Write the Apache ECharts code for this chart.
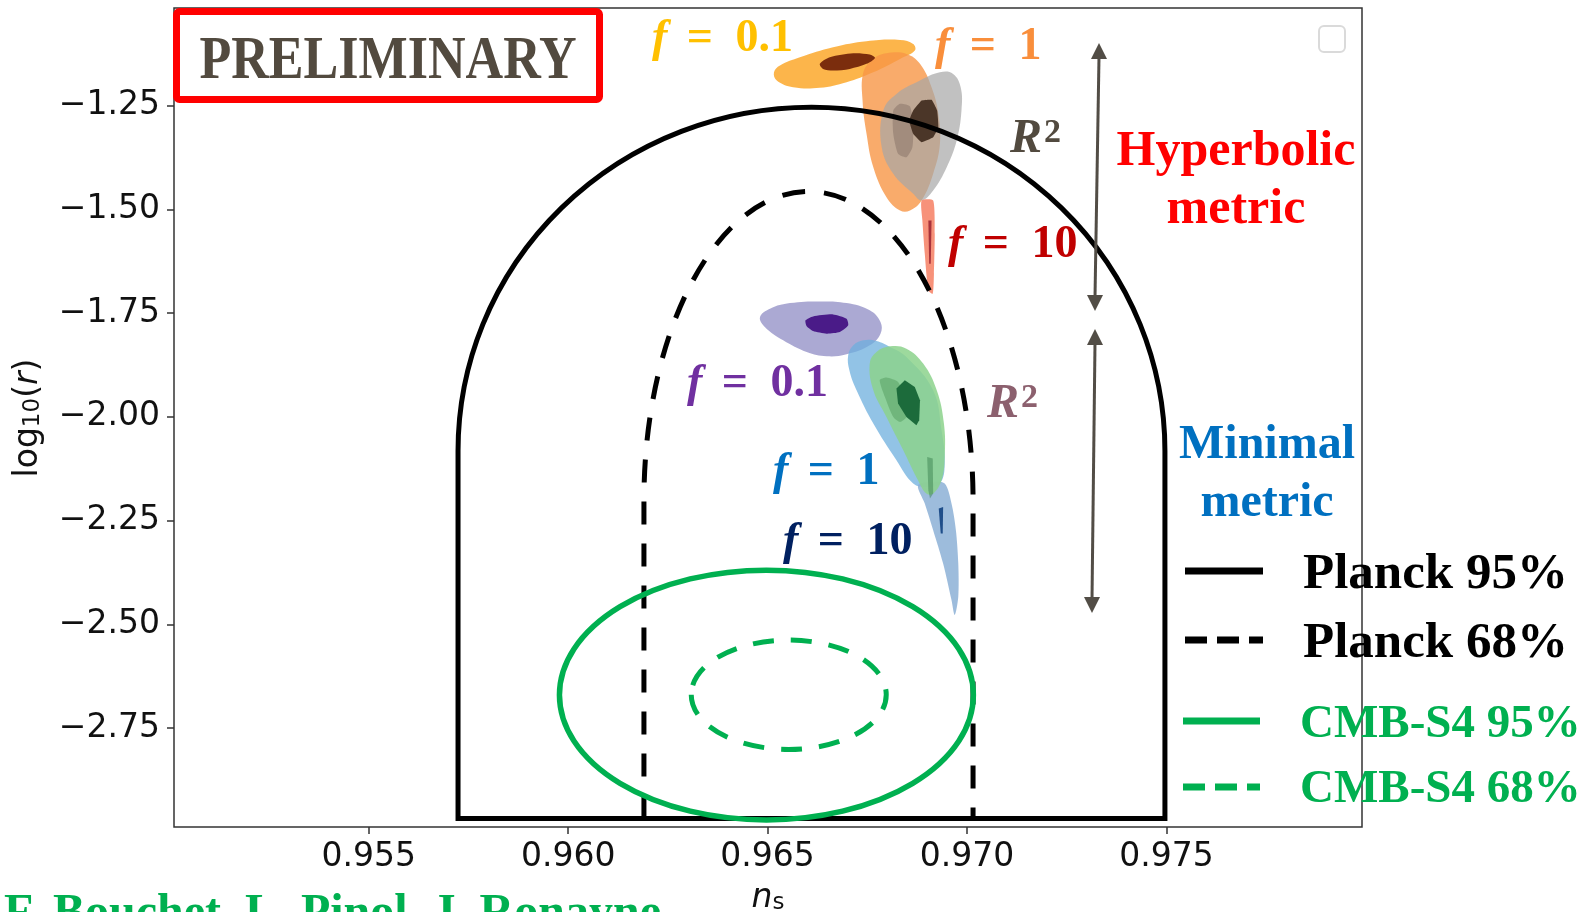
<!DOCTYPE html>
<html><head><meta charset="utf-8">
<script src="https://cdn.jsdelivr.net/npm/echarts@6/dist/echarts.min.js"></script>
<style>html,body{margin:0;padding:0;background:#fff}#c{width:1588px;height:912px}</style>
</head><body><div id="c"></div>
<script>
// ---------- axes ----------
const xRange = [0.95012, 0.97990];
const yRange = [-2.9880, -1.0150];
const xTicks = [0.955, 0.960, 0.965, 0.970, 0.975];
const yTicks = [-2.75, -2.50, -2.25, -2.00, -1.75, -1.50, -1.25];

// ---------- Planck contours: [left ns, right ns], [bottom, shoulder, top] in log10 r ----------
const planck95X = [0.95724, 0.97496];
const planck95Y = [-2.9673, -2.0821, -1.2540];
const planck68X = [0.96190, 0.97015];
const planck68Y = [-2.9673, -2.2007, -1.4570];

// ---------- CMB-S4 forecast: [centre ns, centre log10 r, half-width, half-height] ----------
const cmbs4_95 = [0.96497, -2.6701, 0.005188, 0.30086];
const cmbs4_68 = [0.96553, -2.6694, 0.002444, 0.13166];

// ---------- posterior contours (ns, log10 r), hyperbolic metric ----------
const hypF01Outer = [[0.96516,-1.1699],[0.96531,-1.1537],[0.96581,-1.1338],[0.96664,-1.1097],[0.96748,-1.0952],[0.96832,-1.0919],[0.96865,-1.1015],[0.96869,-1.1176],[0.96832,-1.1376],[0.96765,-1.1699],[0.96698,-1.1939],[0.96631,-1.2074],[0.96564,-1.2060],[0.96523,-1.1898]];
const hypF01Inner = [[0.96631,-1.1496],[0.96656,-1.1338],[0.96715,-1.1241],[0.96756,-1.1273],[0.96769,-1.1352],[0.96748,-1.1496],[0.96706,-1.1617],[0.96664,-1.1658],[0.96639,-1.1617]];
const hypF1Outer = [[0.96740,-1.1699],[0.96765,-1.1376],[0.96798,-1.1241],[0.96848,-1.1256],[0.96882,-1.1496],[0.96911,-1.2060],[0.96928,-1.2700],[0.96932,-1.3422],[0.96915,-1.4144],[0.96886,-1.4787],[0.96857,-1.5027],[0.96832,-1.5027],[0.96798,-1.4707],[0.96765,-1.3985],[0.96748,-1.3181],[0.96738,-1.2380]];
const hypF1Inner = [[0.96865,-1.2620],[0.96886,-1.2380],[0.96911,-1.2363],[0.96925,-1.2620],[0.96928,-1.3022],[0.96915,-1.3263],[0.96886,-1.3383],[0.96865,-1.3181],[0.96855,-1.2861]];
const hypR2Outer = [[0.96790,-1.2620],[0.96823,-1.2219],[0.96882,-1.1898],[0.96932,-1.1699],[0.96965,-1.1737],[0.96984,-1.2060],[0.96986,-1.2620],[0.96974,-1.3342],[0.96949,-1.3985],[0.96915,-1.4546],[0.96886,-1.4787],[0.96865,-1.4625],[0.96815,-1.4144],[0.96786,-1.3504]];
const hypR2Inner = [[0.96815,-1.2620],[0.96832,-1.2459],[0.96857,-1.2524],[0.96865,-1.3022],[0.96863,-1.3504],[0.96848,-1.3745],[0.96827,-1.3663],[0.96815,-1.3181]];
const hypF10Outer = [[0.96886,-1.4787],[0.96915,-1.4787],[0.96919,-1.5588],[0.96917,-1.6551],[0.96914,-1.7032],[0.96903,-1.6953],[0.96894,-1.6070],[0.96888,-1.5268]];
const hypF10Inner = [[0.96903,-1.5268],[0.96911,-1.5268],[0.96909,-1.6310],[0.96905,-1.6310]];

// ---------- posterior contours, minimal metric ----------
const minF01Outer = [[0.96481,-1.7596],[0.96506,-1.7393],[0.96556,-1.7259],[0.96631,-1.7218],[0.96698,-1.7259],[0.96756,-1.7434],[0.96783,-1.7716],[0.96783,-1.7995],[0.96756,-1.8277],[0.96698,-1.8493],[0.96648,-1.8541],[0.96598,-1.8438],[0.96539,-1.8156],[0.96493,-1.7836]];
const minF01Inner = [[0.96595,-1.7675],[0.96614,-1.7579],[0.96664,-1.7531],[0.96698,-1.7634],[0.96702,-1.7795],[0.96681,-1.7957],[0.96648,-1.7995],[0.96614,-1.7932],[0.96598,-1.7819]];
const minF1Outer = [[0.96702,-1.8517],[0.96715,-1.8277],[0.96740,-1.8156],[0.96773,-1.8173],[0.96807,-1.8318],[0.96848,-1.8558],[0.96915,-1.9360],[0.96936,-2.0323],[0.96944,-2.1124],[0.96932,-2.1605],[0.96898,-2.1687],[0.96865,-2.1605],[0.96823,-2.1045],[0.96765,-2.0161],[0.96723,-1.9360],[0.96705,-1.8878]];
const minF10Outer = [[0.96877,-2.1646],[0.96911,-2.1567],[0.96944,-2.1605],[0.96961,-2.2087],[0.96972,-2.2729],[0.96978,-2.3531],[0.96978,-2.4335],[0.96969,-2.4775],[0.96961,-2.4414],[0.96940,-2.3531],[0.96915,-2.2729],[0.96894,-2.2087]];
const minF10Inner = [[0.96929,-2.2207],[0.96940,-2.2169],[0.96939,-2.2809],[0.96934,-2.2809]];
const minR2Outer = [[0.96756,-1.8717],[0.96773,-1.8438],[0.96807,-1.8301],[0.96848,-1.8356],[0.96890,-1.8717],[0.96924,-1.9360],[0.96942,-2.0161],[0.96944,-2.0965],[0.96936,-2.1526],[0.96915,-2.1846],[0.96898,-2.1846],[0.96877,-2.1526],[0.96840,-2.0804],[0.96798,-2.0002],[0.96765,-1.9360]];
const minR2Mid = [[0.96781,-1.9119],[0.96798,-1.9054],[0.96827,-1.9160],[0.96848,-1.9600],[0.96848,-2.0002],[0.96832,-2.0123],[0.96815,-2.0002],[0.96794,-1.9521]];
const minR2Tail = [[0.96900,-2.0965],[0.96914,-2.1004],[0.96915,-2.1846],[0.96907,-2.1966],[0.96903,-2.1767]];
const minR2Inner = [[0.96823,-1.9319],[0.96844,-1.9119],[0.96869,-1.9280],[0.96882,-1.9600],[0.96880,-2.0082],[0.96873,-2.0202],[0.96848,-2.0002],[0.96827,-1.9680]];

// ---------- labels ----------
const fValuesHyp = ['0.1', '1', '10'];
const fValuesMin = ['0.1', '1', '10'];
const legendLabels = ['Planck 95%', 'Planck 68%', 'CMB-S4 95%', 'CMB-S4 68%'];
const authors = 'F. Bouchet, L. Pinol, J. Ronayne';

const SERIF = '"Liberation Serif", "Times New Roman", serif';
const SANS = '"DejaVu Sans", sans-serif';

function blob(name, pts, fill, smooth) {
  return {
    type: 'custom', name: name, silent: true, animation: false,
    data: [pts[0]],
    renderItem: function (params, api) {
      return {
        type: 'polygon',
        shape: { points: pts.map(function (p) { return api.coord(p); }), smooth: smooth },
        style: { fill: fill, stroke: null }
      };
    }
  };
}

function arch(name, X, Y, color, width, dash, closed) {
  return {
    type: 'custom', name: name, silent: true, animation: false, z: 5,
    data: [[X[0], Y[0]]],
    renderItem: function (params, api) {
      const bl = api.coord([X[0], Y[0]]), br = api.coord([X[1], Y[0]]);
      const sl = api.coord([X[0], Y[1]]), sr = api.coord([X[1], Y[1]]);
      const tp = api.coord([(X[0] + X[1]) / 2, Y[2]]);
      const rx = (sr[0] - sl[0]) / 2, ry = sl[1] - tp[1];
      const d = 'M' + bl[0] + ',' + bl[1] + ' L' + sl[0] + ',' + sl[1] +
        ' A' + rx + ',' + ry + ' 0 0 1 ' + sr[0] + ',' + sr[1] +
        ' L' + br[0] + ',' + br[1] + (closed ? ' Z' : '');
      return { type: 'path', shape: { pathData: d },
        style: { fill: 'none', stroke: color, lineWidth: width, lineDash: dash, lineJoin: 'miter' } };
    }
  };
}

function ellipse(name, E, color, width, dash) {
  return {
    type: 'custom', name: name, silent: true, animation: false, z: 6,
    data: [[E[0], E[1]]],
    renderItem: function (params, api) {
      const c = api.coord([E[0], E[1]]);
      const s = api.size([E[2], E[3]]);
      const rx = s[0], ry = s[1];
      const d = 'M' + (c[0] - rx) + ',' + c[1] +
        ' A' + rx + ',' + ry + ' 0 1 0 ' + (c[0] + rx) + ',' + c[1] +
        ' A' + rx + ',' + ry + ' 0 1 0 ' + (c[0] - rx) + ',' + c[1] + ' Z';
      return { type: 'path', shape: { pathData: d },
        style: { fill: 'none', stroke: color, lineWidth: width, lineDash: dash } };
    }
  };
}

function fLabel(x, y, val, color) {
  const base = { fontFamily: SERIF, fontWeight: 'bold', fontSize: 46, fill: color, color: color };
  return {
    type: 'text', x: x, y: y, z: 60,
    style: {
      text: '{f|f}{e| = }{n|' + val + '}',
      rich: {
        f: Object.assign({}, base, { fontStyle: 'italic', padding: [0, 8, 0, 0] }),
        e: Object.assign({}, base, { padding: [0, 11, 0, 0] }),
        n: Object.assign({}, base)
      },
      fill: color, align: 'left', textAlign: 'left', verticalAlign: 'middle', textVerticalAlign: 'middle'
    }
  };
}

function r2Label(x, y, color) {
  const base = { fontFamily: SERIF, fontWeight: 'bold', fill: color, color: color };
  return {
    type: 'text', x: x, y: y, z: 60,
    style: {
      text: '{r|R}{s|2}',
      rich: {
        r: Object.assign({}, base, { fontStyle: 'italic', fontSize: 48 }),
        s: Object.assign({}, base, { fontSize: 34, verticalAlign: 'top', padding: [0, 0, 0, 2] })
      },
      fill: color, align: 'left', textAlign: 'left', verticalAlign: 'middle', textVerticalAlign: 'middle'
    }
  };
}

function txt(x, y, text, size, color, align, extra) {
  return Object.assign({
    type: 'text', x: x, y: y, z: 60,
    style: { text: text, font: 'bold ' + size + 'px ' + SERIF, fill: color,
      align: align, textAlign: align, verticalAlign: 'middle', textVerticalAlign: 'middle' }
  }, extra || {});
}

function arrow(x1, y1, x2, y2) {
  const c = '#524D46', hl = 16, hw = 8;
  return [
    { type: 'line', z: 40, shape: { x1: x1, y1: y1 + hl - 2, x2: x2, y2: y2 - hl + 2 }, style: { stroke: c, lineWidth: 3 } },
    { type: 'polygon', z: 40, shape: { points: [[x1, y1], [x1 - hw, y1 + hl], [x1 + hw, y1 + hl]] }, style: { fill: c } },
    { type: 'polygon', z: 40, shape: { points: [[x2, y2], [x2 - hw, y2 - hl], [x2 + hw, y2 - hl]] }, style: { fill: c } }
  ];
}

const chart = echarts.init(document.getElementById('c'), null, { renderer: 'canvas' });

const graphics = [].concat(
  [
    // PRELIMINARY box
    { type: 'rect', z: 70, shape: { x: 176.5, y: 11.5, width: 423, height: 88, r: 3 },
      style: { fill: '#fff', stroke: '#FF0000', lineWidth: 7 } },
    txt(388, 62, 'PRELIMINARY', 62, '#524A3F', 'center', { z: 71, scaleX: 0.84 }),
    // empty legend frame at top right
    { type: 'rect', z: 40, shape: { x: 1319, y: 26, width: 26, height: 26, r: 5 },
      style: { fill: 'none', stroke: '#DADADA', lineWidth: 2 } },
    fLabel(652, 39, fValuesHyp[0], '#FFC000'),
    fLabel(935, 47, fValuesHyp[1], '#F98E3B'),
    r2Label(1010, 140, '#524A3F'),
    fLabel(948, 245, fValuesHyp[2], '#C00000'),
    txt(1236, 152, 'Hyperbolic', 50, '#FF0000', 'center'),
    txt(1236, 210, 'metric', 50, '#FF0000', 'center'),
    fLabel(687, 384, fValuesMin[0], '#7030A0'),
    r2Label(987, 405, '#8C606E'),
    fLabel(773, 472, fValuesMin[1], '#0070C0'),
    fLabel(783, 542, fValuesMin[2], '#002060'),
    txt(1267, 446, 'Minimal', 48, '#0070C0', 'center'),
    txt(1267, 504, 'metric', 48, '#0070C0', 'center'),
    // legend
    { type: 'line', z: 40, shape: { x1: 1185, y1: 571, x2: 1263, y2: 571 }, style: { stroke: '#000', lineWidth: 7 } },
    { type: 'line', z: 40, shape: { x1: 1185, y1: 640, x2: 1263, y2: 640 }, style: { stroke: '#000', lineWidth: 7, lineDash: [22, 10] } },
    { type: 'line', z: 40, shape: { x1: 1183, y1: 721, x2: 1260, y2: 721 }, style: { stroke: '#00B050', lineWidth: 7 } },
    { type: 'line', z: 40, shape: { x1: 1183, y1: 787, x2: 1260, y2: 787 }, style: { stroke: '#00B050', lineWidth: 7, lineDash: [22, 10] } },
    txt(1303, 575, legendLabels[0], 51, '#000', 'left'),
    txt(1303, 644, legendLabels[1], 51, '#000', 'left'),
    txt(1300, 725, legendLabels[2], 47, '#00B050', 'left'),
    txt(1300, 790, legendLabels[3], 47, '#00B050', 'left'),
    // authors
    txt(4, 915, authors, 48, '#00B050', 'left'),
    // axis titles
    { type: 'text', x: 768, y: 898, z: 60, style: {
        text: '{n|n}{s|s}', align: 'center', textAlign: 'center', verticalAlign: 'middle', textVerticalAlign: 'middle',
        rich: { n: { fontFamily: SANS, fontStyle: 'italic', fontSize: 33, fill: '#111', color: '#111' },
                s: { fontFamily: SANS, fontSize: 23, fill: '#111', color: '#111', verticalAlign: 'bottom' } } } },
    { type: 'text', x: 28, y: 418, z: 60, rotation: Math.PI / 2, style: {
        text: '{a|log}{b|10}{a|(}{c|r}{a|)}', align: 'center', textAlign: 'center', verticalAlign: 'middle', textVerticalAlign: 'middle',
        rich: { a: { fontFamily: SANS, fontSize: 33, fill: '#111', color: '#111' },
                b: { fontFamily: SANS, fontSize: 23, fill: '#111', color: '#111', verticalAlign: 'bottom' },
                c: { fontFamily: SANS, fontStyle: 'italic', fontSize: 33, fill: '#111', color: '#111' } } } }
  ],
  arrow(1099, 43, 1095, 311),
  arrow(1095, 329, 1092, 613)
);

chart.setOption({
  animation: false,
  backgroundColor: '#fff',
  grid: { left: 174, top: 8, width: 1188, height: 819, show: true, borderColor: '#333', borderWidth: 1.5, backgroundColor: 'transparent' },
  xAxis: {
    type: 'value', min: xRange[0], max: xRange[1], scale: true,
    splitLine: { show: false },
    axisLine: { show: false },
    axisTick: { show: true, inside: false, length: 7, lineStyle: { color: '#333', width: 1.5 }, customValues: xTicks },
    axisLabel: { customValues: xTicks, margin: 14, fontFamily: 'DejaVu Sans', fontSize: 33, color: '#111',
      formatter: function (v) { return v.toFixed(3); } }
  },
  yAxis: {
    type: 'value', min: yRange[0], max: yRange[1], scale: true,
    splitLine: { show: false },
    axisLine: { show: false },
    axisTick: { show: true, inside: false, length: 7, lineStyle: { color: '#333', width: 1.5 }, customValues: yTicks },
    axisLabel: { customValues: yTicks, margin: 14, fontFamily: 'DejaVu Sans', fontSize: 33, color: '#111',
      formatter: function (v) { return (v < 0 ? '\u2212' : '') + Math.abs(v).toFixed(2); } }
  },
  series: [
    blob('Hyperbolic f=0.1 (95%)', hypF01Outer, 'rgba(252,175,60,0.92)', 0.4),
    blob('Hyperbolic f=1 (95%)', hypF1Outer, 'rgba(247,150,70,0.8)', 0.4),
    blob('Hyperbolic f=0.1 (68%)', hypF01Inner, '#7B2D0D', 0.3),
    blob('Hyperbolic R2 (95%)', hypR2Outer, 'rgba(166,166,166,0.7)', 0.4),
    blob('Hyperbolic R2 (68%)', hypR2Inner, 'rgba(150,128,116,0.7)', 0.2),
    blob('Hyperbolic f=1 (68%)', hypF1Inner, '#4B3628', 0.1),
    blob('Hyperbolic f=10 (95%)', hypF10Outer, 'rgba(247,140,115,0.95)', 0.2),
    blob('Hyperbolic f=10 (68%)', hypF10Inner, '#A9323A', 0),
    blob('Minimal f=0.1 (95%)', minF01Outer, 'rgba(150,148,200,0.8)', 0.4),
    blob('Minimal f=0.1 (68%)', minF01Inner, '#4A1B88', 0.2),
    blob('Minimal f=1 (95%)', minF1Outer, 'rgba(110,175,222,0.75)', 0.4),
    blob('Minimal f=10 (95%)', minF10Outer, 'rgba(140,176,214,0.85)', 0.3),
    blob('Minimal R2 (95%)', minR2Outer, 'rgba(140,210,140,0.85)', 0.4),
    blob('Minimal R2 (mid)', minR2Mid, 'rgba(90,160,100,0.55)', 0.2),
    blob('Minimal R2 tail', minR2Tail, 'rgba(60,130,80,0.5)', 0),
    blob('Minimal R2 (68%)', minR2Inner, '#1C6B3B', 0),
    blob('Minimal f=10 (68%)', minF10Inner, '#1F4E8A', 0),
    arch('Planck 95%', planck95X, planck95Y, '#000', 5, null, true),
    arch('Planck 68%', planck68X, planck68Y, '#000', 5, [23, 19], false),
    ellipse('CMB-S4 95%', cmbs4_95, '#00B050', 5.5, null),
    ellipse('CMB-S4 68%', cmbs4_68, '#00B050', 5, [21, 17])
  ],
  graphic: { elements: graphics }
});
</script>
</body></html>
